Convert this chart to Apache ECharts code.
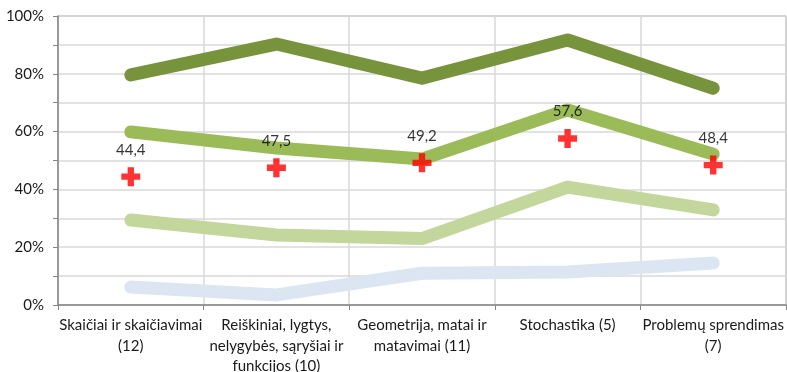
<!DOCTYPE html>
<html>
<head>
<meta charset="utf-8">
<script src="https://cdn.jsdelivr.net/npm/echarts@6/dist/echarts.min.js"></script>
<style>
  html, body { margin: 0; padding: 0; background: #fff; }
  #chart { width: 787px; height: 372px; }
</style>
</head>
<body>
<div id="chart"></div>
<script>
// Topic areas (with number of tasks)
const categories = [
  'Skaičiai ir skaičiavimai\n(12)',
  'Reiškiniai, lygtys,\nnelygybės, sąryšiai ir\nfunkcijos (10)',
  'Geometrija, matai ir\nmatavimai (11)',
  'Stochastika (5)',
  'Problemų sprendimas\n(7)'
];

// Percentages per level group
const levelHigh = [79.6, 90.3, 78.5, 91.7, 75.0];
const levelMid = [59.9, 54.3, 50.5, 67.5, 52.2];
const levelLow = [29.4, 24.2, 23.0, 40.8, 32.9];
const levelBelow = [6.2, 3.5, 11.0, 11.4, 14.5];

// Average score per topic
const average = [44.4, 47.5, 49.2, 57.6, 48.4];

const yTicks = [0, 20, 40, 60, 80, 100];

const font = 'Lato, "Open Sans", sans-serif';
const crossPath = 'path://M3,0 H6 V3 H9 V6 H6 V9 H3 V6 H0 V3 H3 Z';

function lineSeries(name, data, color) {
  return {
    name: name,
    type: 'line',
    data: data,
    symbol: 'none',
    lineStyle: { color: color, width: 13, cap: 'round', join: 'round' },
    z: 2
  };
}

const chart = echarts.init(document.getElementById('chart'), null, { renderer: 'canvas' });
chart.setOption({
  animation: false,
  backgroundColor: '#ffffff',
  grid: {
    left: 58, right: 1, top: 16, bottom: 67,
    containLabel: false,
    outerBoundsMode: 'none',
    show: true, borderColor: '#868686', borderWidth: 1
  },
  xAxis: {
    type: 'category',
    data: categories,
    boundaryGap: true,
    axisLine: { show: true, lineStyle: { color: '#868686', width: 1.5 } },
    axisTick: { show: true, length: 5, lineStyle: { color: '#868686' } },
    splitLine: { show: true, lineStyle: { color: '#d9d9d9', width: 1.5 } },
    axisLabel: {
      interval: 0,
      color: '#1a1a1a',
      fontFamily: font,
      fontSize: 15,
      lineHeight: 20.5,
      margin: 10
    }
  },
  yAxis: {
    type: 'value',
    min: 0,
    max: 100,
    interval: 10,
    axisLine: { show: true, lineStyle: { color: '#868686', width: 1.5 } },
    axisTick: { show: true, length: 5, lineStyle: { color: '#868686' } },
    splitLine: { show: true, lineStyle: { color: '#d9d9d9', width: 1.5 } },
    axisLabel: {
      color: '#1a1a1a',
      fontFamily: font,
      fontSize: 15,
      margin: 14,
      formatter: function (v) { return yTicks.indexOf(v) >= 0 ? v + '%' : ''; }
    }
  },
  series: [
    lineSeries('high', levelHigh, '#77933c'),
    lineSeries('mid', levelMid, '#9bbb59'),
    lineSeries('low', levelLow, '#c3d69b'),
    lineSeries('below', levelBelow, '#dce6f2'),
    {
      name: 'average',
      type: 'scatter',
      data: average,
      symbol: crossPath,
      symbolSize: 19,
      itemStyle: { color: '#ff0000' },
      z: 5,
      label: {
        show: true,
        position: 'top',
        distance: 10,
        color: '#000',
        fontFamily: font,
        fontSize: 15,
        formatter: function (p) { return p.value.toFixed(1).replace('.', ','); }
      }
    }
  ]
});
</script>
</body>
</html>
